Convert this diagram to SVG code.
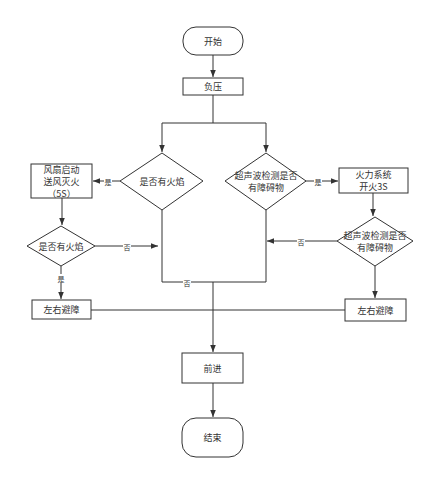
<svg xmlns="http://www.w3.org/2000/svg" width="447" height="480" viewBox="0 0 447 480">
<defs>
<marker id="ah" viewBox="0 0 10 10" refX="10" refY="5" markerWidth="7" markerHeight="7" orient="auto" markerUnits="userSpaceOnUse">
<path d="M0,1 L10,5 L0,9 Z" fill="#333"/>
</marker>
<style>
.n{fill:#fff;stroke:#333;stroke-width:1}
.t{font-family:"Noto Sans CJK SC","Liberation Sans",sans-serif;font-size:9px;fill:#333;text-anchor:middle;dominant-baseline:central}
.l{font-family:"Noto Sans CJK SC","Liberation Sans",sans-serif;font-size:7px;fill:#333;text-anchor:middle;dominant-baseline:central}
.c{fill:none;stroke:#333;stroke-width:1}
.lb{fill:#fff}
</style>
</defs>
<rect width="447" height="480" fill="#fff"/>
<g id="connectors">
<path class="c" d="M213,55 V77" marker-end="url(#ah)"/>
<path class="c" d="M213,95 V123 H162 V152" marker-end="url(#ah)"/>
<path class="c" d="M213,123 H266 V152" marker-end="url(#ah)"/>
<path class="c" d="M120,181 H93" marker-end="url(#ah)"/>
<path class="c" d="M62,198 V225" marker-end="url(#ah)"/>
<path class="c" d="M95,246 H158" marker-end="url(#ah)"/>
<path class="c" d="M61,266 V299" marker-end="url(#ah)"/>
<path class="c" d="M162,210 V282 H266 V210"/>
<path class="c" d="M91,310 H345"/>
<path class="c" d="M305,181 H338" marker-end="url(#ah)"/>
<path class="c" d="M373,193 V216" marker-end="url(#ah)"/>
<path class="c" d="M337,241 H267" marker-end="url(#ah)"/>
<path class="c" d="M375,266 V298" marker-end="url(#ah)"/>
<path class="c" d="M213,282 V352" marker-end="url(#ah)"/>
<path class="c" d="M213,383 V417" marker-end="url(#ah)"/>
<rect class="lb" x="104" y="177" width="8" height="9"/>
<text class="l" x="108" y="181.5">是</text>
<rect class="lb" x="123" y="242" width="8" height="9"/>
<text class="l" x="127" y="246.5">否</text>
<rect class="lb" x="57" y="274" width="8" height="9"/>
<text class="l" x="61" y="278.5">是</text>
<rect class="lb" x="183" y="278" width="8" height="9"/>
<text class="l" x="187" y="283">否</text>
<rect class="lb" x="314" y="177" width="8" height="9"/>
<text class="l" x="318" y="181.5">是</text>
<rect class="lb" x="297" y="237" width="8" height="9"/>
<text class="l" x="301" y="241.5">否</text>
</g>
<g id="start">
<rect class="n" x="183" y="27" width="60" height="28" rx="13"/>
<text class="t" x="213" y="41">开始</text>
</g>
<g id="fuya">
<rect class="n" x="183" y="78" width="60" height="17"/>
<text class="t" x="213" y="86.5">负压</text>
</g>
<g id="d-fire1">
<polygon class="n" points="162,153 203,181 162,210 120,181"/>
<text class="t" x="162" y="181.5">是否有火焰</text>
</g>
<g id="fan">
<rect class="n" x="31" y="164" width="61" height="34"/>
<text class="t" x="61.5" y="169.5">风扇启动</text>
<text class="t" x="61.5" y="181.5">送风灭火</text>
<text class="t" x="61.5" y="193">（5S）</text>
</g>
<g id="d-fire2">
<polygon class="n" points="61,226 95,246 61,266 27,246"/>
<text class="t" x="61" y="246">是否有火焰</text>
</g>
<g id="avoid-left">
<rect class="n" x="32" y="300" width="59" height="19"/>
<text class="t" x="61.5" y="309.5">左右避障</text>
</g>
<g id="d-us1">
<polygon class="n" points="266,153 306,181 266,210 225,181"/>
<text class="t" x="266" y="175.5">超声波检测是否</text>
<text class="t" x="266" y="187.5">有障碍物</text>
</g>
<g id="firepower">
<rect class="n" x="339" y="168" width="69" height="25"/>
<text class="t" x="373.5" y="174.5">火力系统</text>
<text class="t" x="373.5" y="186.5">开火3S</text>
</g>
<g id="d-us2">
<polygon class="n" points="375,217 413,241 375,266 337,241"/>
<text class="t" x="375" y="235.5">超声波检测是否</text>
<text class="t" x="375" y="247.5">有障碍物</text>
</g>
<g id="avoid-right">
<rect class="n" x="345" y="299" width="61" height="22"/>
<text class="t" x="375.5" y="310">左右避障</text>
</g>
<g id="forward">
<rect class="n" x="182" y="353" width="61" height="30"/>
<text class="t" x="212.5" y="368">前进</text>
</g>
<g id="end">
<rect class="n" x="182" y="418" width="61" height="39" rx="14"/>
<text class="t" x="212.5" y="437.5">结束</text>
</g>
</svg>
